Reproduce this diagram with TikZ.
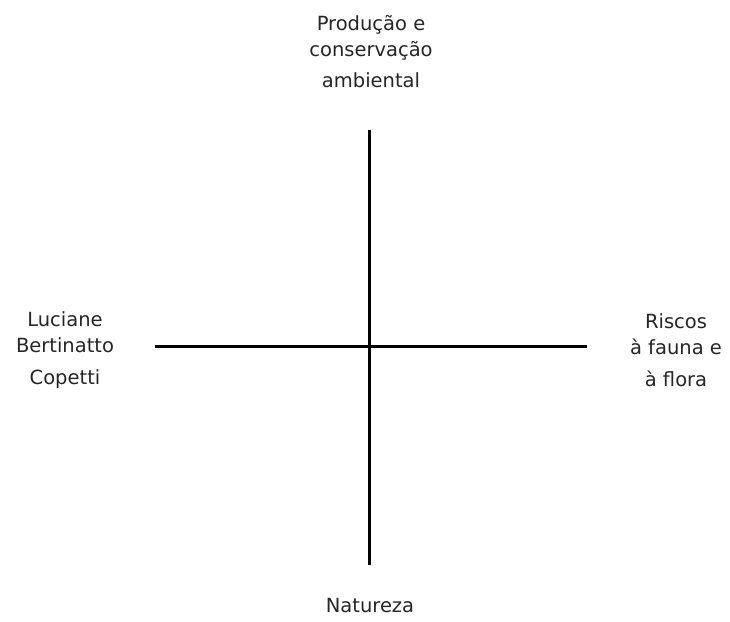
\documentclass[tikz,border=0pt]{standalone}
\usepackage{fontspec}
\setmainfont{DejaVu Sans}
\usetikzlibrary{positioning}

\begin{document}
\begin{tikzpicture}[x=1pt, y=-1pt,
  every node/.style={font=\fontsize{19.5}{26}\selectfont, text=black!85, align=center, inner sep=0pt},
  axis/.style={line width=3pt, black}]

% Background
\fill[white] (0,0) rectangle (730,621);
\useasboundingbox (0,0) rectangle (730,621);

% Axis ends
\coordinate (top) at (369,130);
\coordinate (bottom) at (369,565);
\coordinate (left) at (155,346);
\coordinate (right) at (587,346);

% Axes
\draw[axis] (top) -- (bottom);
\draw[axis] (left) -- (right);

% Labels
\node (producao) at (371,52) {Produção e\\conservação\\[5pt]ambiental};
\node (luciane) at (65,350) {Luciane\\Bertinatto\\[6pt]Copetti};
\node (riscos) at (676,350) {Riscos\\à fauna e\\[6pt]à flora};
\node (natureza) at (370,606) {Natureza};

\end{tikzpicture}
\end{document}
